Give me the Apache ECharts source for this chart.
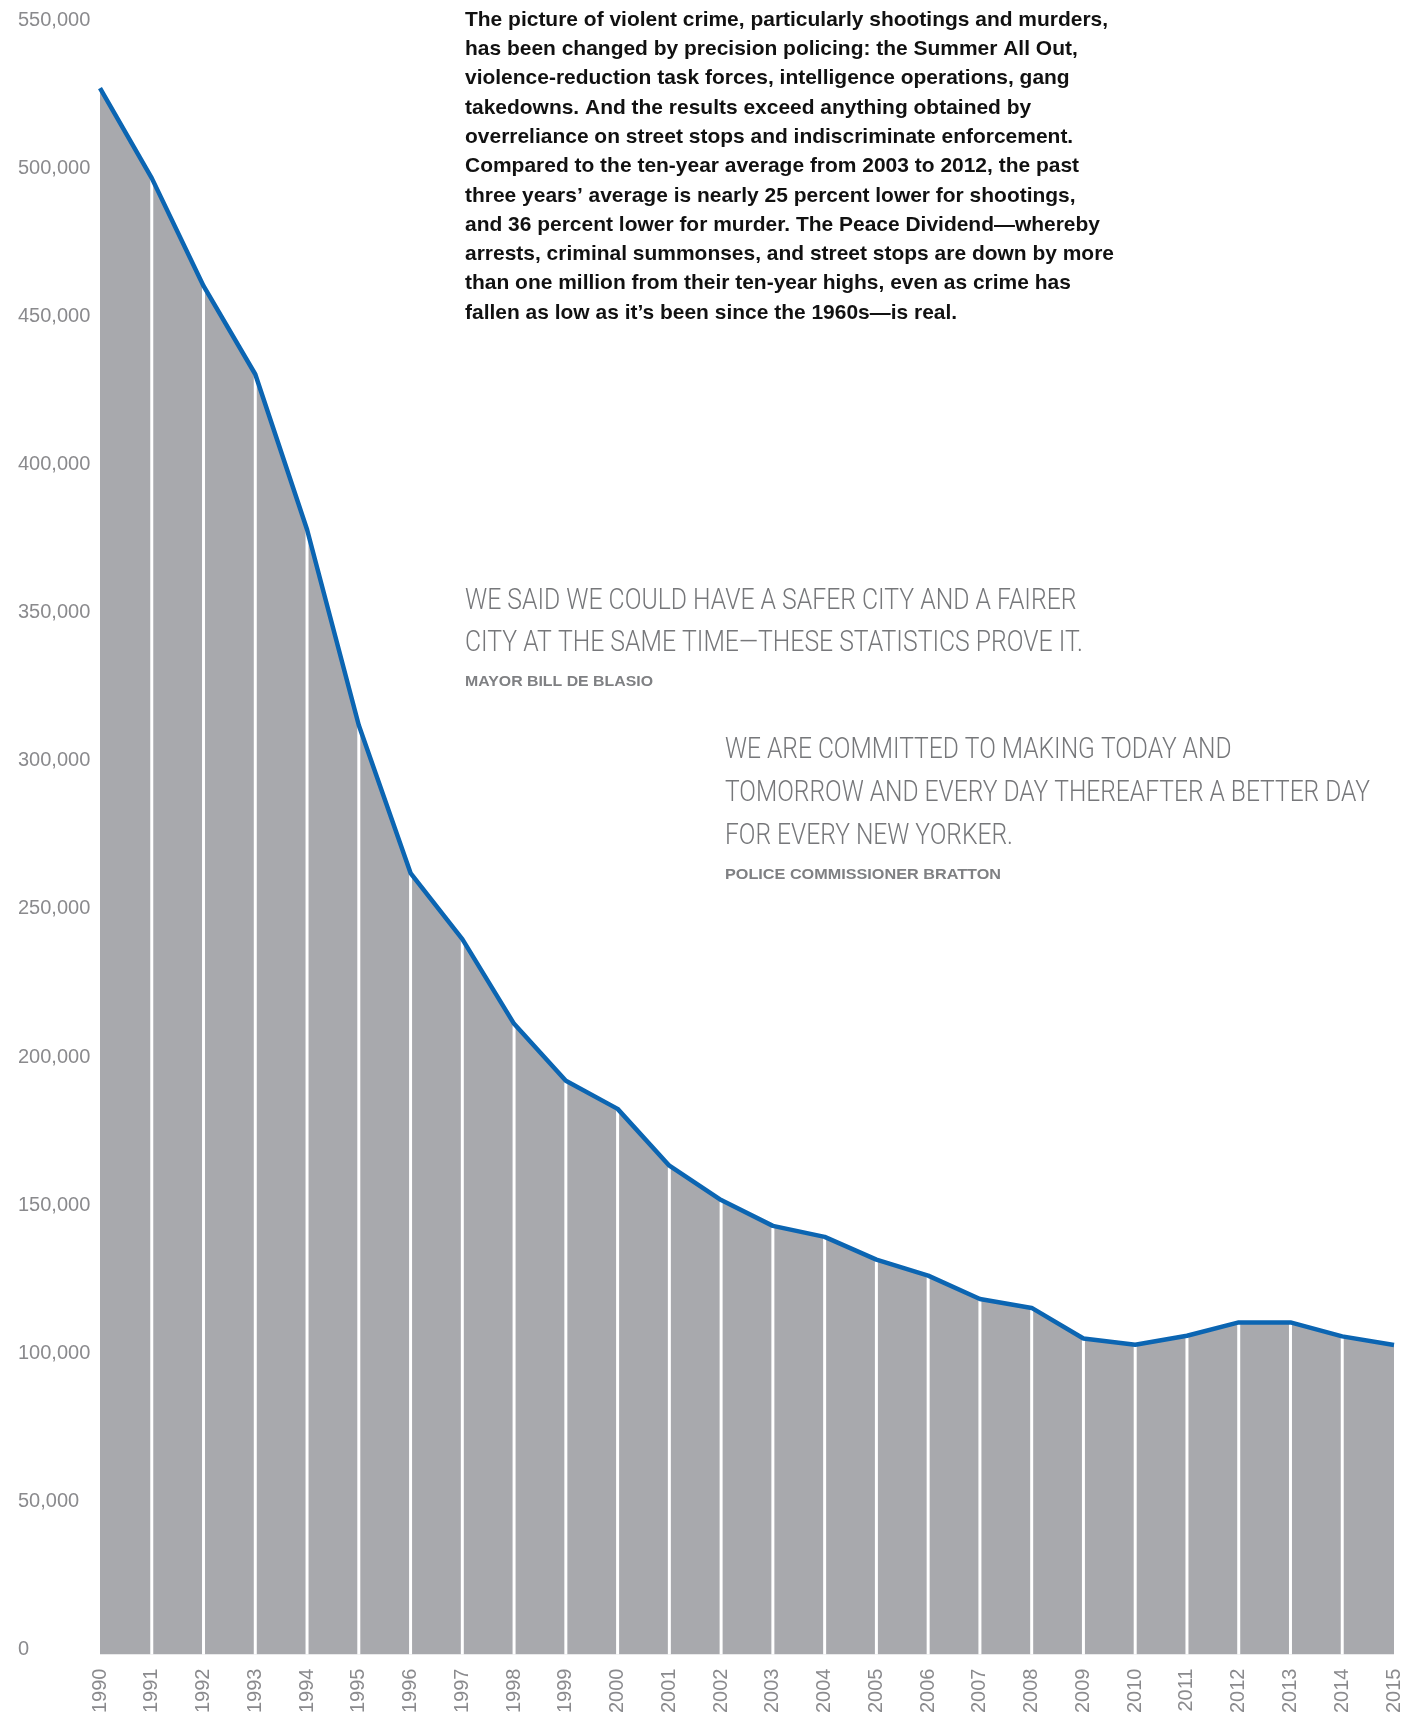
<!DOCTYPE html>
<html><head><meta charset="utf-8">
<script src="https://cdn.jsdelivr.net/npm/echarts@6/dist/echarts.min.js"></script>
<style>html,body{margin:0;padding:0;background:#fff}#c{width:1405px;height:1716px}</style>
</head><body><div id="c"></div>
<script>
// ---- data ----
const years = ['1990','1991','1992','1993','1994','1995','1996','1997','1998','1999','2000','2001','2002','2003','2004','2005','2006','2007','2008','2009','2010','2011','2012','2013','2014','2015'];
const crimes = [528800, 498400, 462000, 432200, 379800, 313700, 263800, 241500, 212900, 193700, 184200, 165000, 153400, 144700, 141000, 133300, 127900, 120000, 117000, 106700, 104600, 107600, 112100, 112100, 107400, 104500];
const yMin = 0, yMax = 550000, yStep = 50000;

const paragraphLines = [
  'The picture of violent crime, particularly shootings and murders,',
  'has been changed by precision policing: the Summer All Out,',
  'violence-reduction task forces, intelligence operations, gang',
  'takedowns. And the results exceed anything obtained by',
  'overreliance on street stops and indiscriminate enforcement.',
  'Compared to the ten-year average from 2003 to 2012, the past',
  'three years\u2019 average is nearly 25 percent lower for shootings,',
  'and 36 percent lower for murder. The Peace Dividend\u2014whereby',
  'arrests, criminal summonses, and street stops are down by more',
  'than one million from their ten-year highs, even as crime has',
  'fallen as low as it\u2019s been since the 1960s\u2014is real.'
];
const quote1Lines = ['WE SAID WE COULD HAVE A SAFER CITY AND A FAIRER', 'CITY AT THE SAME TIME\u2014THESE STATISTICS PROVE IT.'];
const quote1By = 'MAYOR BILL DE BLASIO';
const quote2Lines = ['WE ARE COMMITTED TO MAKING TODAY AND', 'TOMORROW AND EVERY DAY THEREAFTER A BETTER DAY', 'FOR EVERY NEW YORKER.'];
const quote2By = 'POLICE COMMISSIONER BRATTON';

// ---- helpers ----
const ctx = document.createElement('canvas').getContext('2d');
function widest(lines, font){ ctx.font = font; return Math.max(...lines.map(l => ctx.measureText(l).width)); }
const FP = 'bold 21px "Liberation Sans", Arial, sans-serif';
const FQ = '300 30px Roboto, "Open Sans", sans-serif';
const FA = 'bold 15px "Liberation Sans", Arial, sans-serif';
const sP = 649 / widest(paragraphLines, FP);
const sQ1 = 618 / widest(quote1Lines, FQ);
const sQ2 = 645 / widest(quote2Lines, FQ);
const sA1 = 188 / widest([quote1By], FA);
const sA2 = 276 / widest([quote2By], FA);

function textEl(x, y, sx, lines, font, lh, color){
  return { type: 'text', x: x, y: y, scaleX: sx, z: 100,
    style: { text: lines.join('\n'), font: font, lineHeight: lh, fill: color, align: 'left', verticalAlign: 'top' } };
}

const chart = echarts.init(document.getElementById('c'), null, {renderer: 'canvas'});
chart.setOption({
  animation: false,
  backgroundColor: '#ffffff',
  grid: { left: 100, right: 11, top: 25.3, bottom: 60.3, containLabel: false },
  xAxis: {
    type: 'category', data: years, boundaryGap: false,
    axisLine: { show: false }, axisTick: { show: false }, splitLine: { show: false },
    axisLabel: { rotate: 90, margin: 14, fontSize: 20, color: '#8a8a8d', fontFamily: '"Liberation Sans", Arial, sans-serif', interval: 0 }
  },
  yAxis: {
    type: 'value', min: yMin, max: yMax, interval: yStep,
    axisLine: { show: false }, axisTick: { show: false }, splitLine: { show: false },
    axisLabel: { align: 'left', verticalAlign: 'bottom', lineHeight: 10, margin: 82, fontSize: 20, color: '#8a8a8d',
      fontFamily: '"Liberation Sans", Arial, sans-serif', formatter: v => v.toLocaleString('en-US') }
  },
  series: [
    { type: 'line', data: crimes, symbol: 'none', lineStyle: { width: 0 }, areaStyle: { color: '#a8a9ad', opacity: 1 }, z: 1 },
    { type: 'bar', data: crimes.map((v, i) => (i === 0 || i === crimes.length - 1) ? '-' : v), barWidth: 3,
      itemStyle: { color: '#ffffff' }, z: 2 },
    { type: 'line', data: crimes, symbol: 'none', lineStyle: { width: 4.5, color: '#0b65b2' }, z: 3 }
  ],
  graphic: [
    textEl(465, 5.3, sP, paragraphLines, FP, 29.3, '#111111'),
    textEl(465, 580.5, sQ1, quote1Lines, FQ, 42.3, '#76777a'),
    textEl(465, 671.5, sA1, [quote1By], FA, 20, '#7f8083'),
    textEl(725, 729.5, sQ2, quote2Lines, FQ, 42.6, '#76777a'),
    textEl(725, 865, sA2, [quote2By], FA, 20, '#7f8083')
  ]
});
</script>
</body></html>
